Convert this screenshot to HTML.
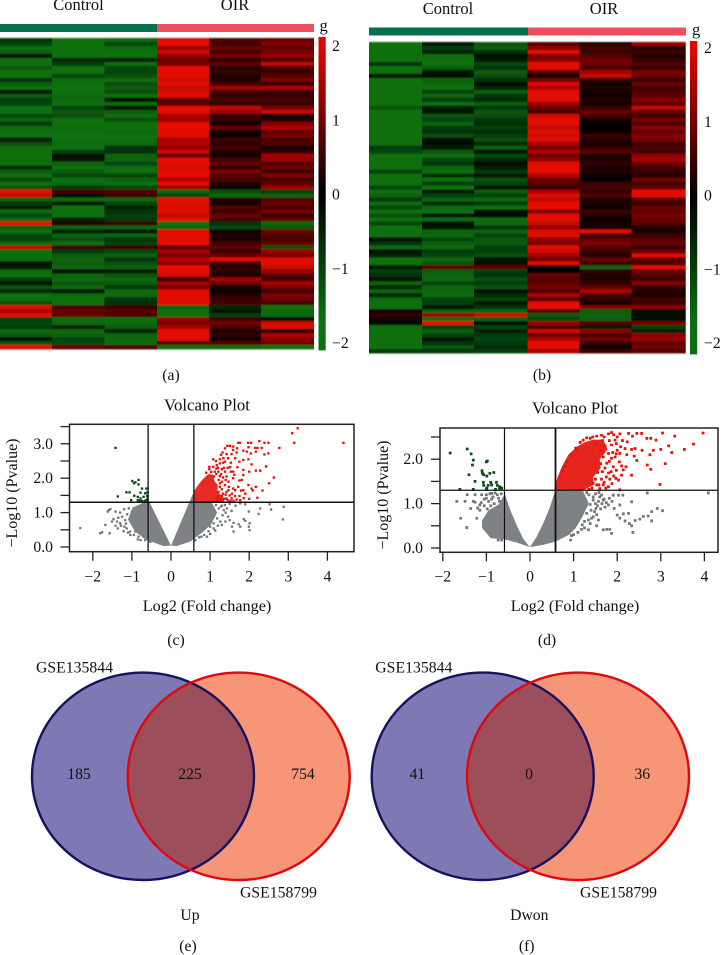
<!DOCTYPE html>
<html lang="en">
<head>
<meta charset="utf-8">
<title>Heatmaps, volcano plots and Venn diagrams</title>
<style>
html,body{margin:0;padding:0;background:#fff;}
svg{display:block;}
text{font-family:"Liberation Serif",serif;fill:#111;}
</style>
</head>
<body>
<svg id="fig" xmlns="http://www.w3.org/2000/svg" width="721" height="955" viewBox="0 0 721 955" font-size="15.7">
  <defs>
    <filter id="rowBlur" x="0" y="-2%" width="100%" height="104%"><feGaussianBlur stdDeviation="0 0.9"/></filter>
    <clipPath id="clipE"><ellipse cx="143" cy="776.3" rx="111" ry="103.7"/></clipPath>
    <clipPath id="clipF"><ellipse cx="482.7" cy="776.3" rx="111" ry="103.7"/></clipPath>
  </defs>
  <rect x="0" y="0" width="721" height="955" fill="#fff"/>
  <g id="panelA">
    <text x="78.5" y="10" text-anchor="middle" font-size="16.5">Control</text>
    <text x="235" y="10" text-anchor="middle" font-size="16.5">OIR</text>
    <rect x="0" y="24" width="157" height="8" fill="#05704f"/>
    <rect x="157" y="24" width="157" height="8" fill="#ee4f5f"/>
    <text x="319.5" y="31" font-size="16.5">g</text>
    <text x="171" y="380" text-anchor="middle">(a)</text>
  </g>
  <g id="panelB">
    <text x="448" y="14" text-anchor="middle" font-size="16.5">Control</text>
    <text x="604" y="14" text-anchor="middle" font-size="16.5">OIR</text>
    <rect x="369" y="27.5" width="159" height="8" fill="#05704f"/>
    <rect x="528" y="27.5" width="158" height="8" fill="#ee4f5f"/>
    <text x="692" y="35" font-size="16.5">g</text>
    <text x="542" y="380" text-anchor="middle">(b)</text>
  </g>
  <g id="panelC"></g>
  <g id="panelD"></g>
  <g id="panelE">
    <ellipse cx="143" cy="776.3" rx="111" ry="103.7" fill="#7e79b4"/>
    <ellipse cx="238.7" cy="776.3" rx="111" ry="103.7" fill="#f79577"/>
    <ellipse cx="238.7" cy="776.3" rx="111" ry="103.7" fill="#9c4e5b" clip-path="url(#clipE)"/>
    <ellipse cx="143" cy="776.3" rx="111" ry="103.7" fill="none" stroke="#16125e" stroke-width="2.4"/>
    <ellipse cx="238.7" cy="776.3" rx="111" ry="103.7" fill="none" stroke="#e0080f" stroke-width="2.4"/>
    <text x="36" y="672.7" textLength="77">GSE135844</text>
    <text x="240" y="897.7" textLength="77">GSE158799</text>
    <text x="79" y="779" text-anchor="middle">185</text>
    <text x="190" y="779" text-anchor="middle">225</text>
    <text x="303" y="779" text-anchor="middle">754</text>
    <text x="190" y="920" text-anchor="middle">Up</text>
    <text x="188" y="951" text-anchor="middle">(e)</text>
  </g>
  <g id="panelF">
    <ellipse cx="482.7" cy="776.3" rx="111" ry="103.7" fill="#7e79b4"/>
    <ellipse cx="578" cy="776.3" rx="111" ry="103.7" fill="#f79577"/>
    <ellipse cx="578" cy="776.3" rx="111" ry="103.7" fill="#9c4e5b" clip-path="url(#clipF)"/>
    <ellipse cx="482.7" cy="776.3" rx="111" ry="103.7" fill="none" stroke="#16125e" stroke-width="2.4"/>
    <ellipse cx="578" cy="776.3" rx="111" ry="103.7" fill="none" stroke="#e0080f" stroke-width="2.4"/>
    <text x="375.3" y="672.7" textLength="77">GSE135844</text>
    <text x="580" y="897.7" textLength="77">GSE158799</text>
    <text x="417.3" y="779" text-anchor="middle">41</text>
    <text x="529" y="779" text-anchor="middle">0</text>
    <text x="642.3" y="779" text-anchor="middle">36</text>
    <text x="529.3" y="920" text-anchor="middle">Dwon</text>
    <text x="526.7" y="951" text-anchor="middle">(f)</text>
  </g>
</svg>
<script>
// ---------- heatmap values (one array per sample column, top row first) ----------
const heatA1=[-.8,-1,-1.6,-1.3,-.2,-1.6,-1.6,-1.2,-1.6,-1.6,
-.7,-1.3,-1.6,-.2,-1.3,-.9,-1,-1.6,-1.6,-1,
-1.4,-.8,-1.5,-1.6,-1.6,-.4,-1.1,-1.6,-1.6,-1.6,
-1.6,-1.6,-.6,-1.3,-1.6,-1,-1.6,-1.1,1.9,1.6,
-1.4,-.8,-.5,-1.5,-1,-1.5,2,-1.3,-1.6,-1,
-1,-1.5,1.6,-1.6,-1.6,-1.5,-.2,-.4,-1.5,-1.6,
-.9,-.3,-1.1,-.6,-1.6,-1.6,-1.1,2,1.4,1.9,
-.9,-1,-.8,-1.5,-1.3,-.3,-1.2,2];
const heatA2=[-1.6,-1.6,-1.6,-1.6,-1.6,-.5,-.9,-1.6,-1.6,-1,
-1.5,-1.6,-1.6,-1.6,-1.5,-1.5,-1.6,-1,-1.2,-1.1,
-1.6,-1.6,-1.5,-1.6,-1.6,-1.6,-1.5,-1.6,-.9,-.2,
-.3,-1.4,-1.6,-1.3,-1,-1.6,-1.5,-.8,.6,-.1,
-1.5,-.3,-1.6,-1.6,-1.6,-.5,.3,-1.4,-.4,-1.4,
-1.1,-1.6,.5,-.8,-1.3,-1.4,-1.3,-1.5,-.2,-1.4,
-1.5,-1.2,-1.5,-.2,-1.5,-1.6,-1.6,.6,.9,.8,
-1.5,-1.5,-.5,-1.5,-1.4,-1,-1,.8];
const heatA3=[-1.5,-1,-1.5,-1.6,-1.6,-.3,-1.6,-1,-1,-1.1,
-1.6,-1.1,-1.3,-1.1,-1.6,-.1,-1.5,-.3,-1.3,-1.6,
-1.1,-1.6,-1.6,-1.5,-1.6,-1.6,-1.5,-.7,-.7,-1.4,
-1.4,-1,-1.5,-1.6,-.9,-1.4,-1.6,-1,.7,.5,
-1.5,-1,-.5,-.7,-.9,-.8,.5,-1.4,-.3,-1.4,
-.8,-.9,.5,-1,-1.4,-.8,-1.1,-1.4,-.4,-1.2,
-1.5,-1.3,-.8,-1.5,-1.5,-.7,-.7,.5,.8,.6,
-1.6,-1.5,-1.3,-.5,-1.4,-1.5,-1.5,.6];
const heatA4=[2,1.9,1.3,1.7,1.2,.9,1,2,2,2,
1.7,2,1.6,1.8,1.9,.7,.8,1.9,2,1.5,
1.3,2,2,2,1.9,1.4,1.5,1.3,1.7,.9,
1.9,2,1.8,2,1.9,1.5,1.9,1.3,-1.5,-1,
2,2,1.8,2,1.6,1.9,-1.6,-1.5,2,2,
2,1.9,.7,1.4,1,1.5,1.2,1.9,2,1.7,
.5,1.4,1,2,2,2,1.9,-1.4,-1.6,-1.6,
1.3,1,1.5,2,2,2,.7,-1.6];
const heatA5=[.7,.5,.9,.6,1,.4,.8,.3,.5,.2,
.3,.6,1.4,.5,.4,.6,.5,1.6,1.3,.5,
.4,.2,.9,.2,.1,.5,.4,.6,.3,.2,
.6,.8,.4,1,.7,.6,.3,.1,-1.1,-1.5,
.3,.2,.7,.5,.9,.6,-.7,-1,.2,.3,
.2,.6,.8,.5,.9,1.9,.6,.3,.4,.2,
1.4,.9,.2,.1,.3,.5,.6,-.6,-.3,-.9,
.5,1,.6,.3,.4,.1,.7,-1.5];
const heatA6=[.9,1.1,.8,1,1.3,.7,1.6,.6,.4,.7,
1.1,.4,1.5,.5,.4,.6,.5,1,1.7,.2,
.3,1.1,1.5,.8,1,.6,.7,.2,.4,1.4,
1.3,.7,.9,.5,1.1,.6,.8,1.3,-.9,-1.4,
.7,.9,.6,1,.5,.8,-1.5,-1.2,.9,.7,
.6,.9,-1.1,1.3,1,1.9,2,1.6,1.3,.8,
.5,1.4,1,.5,1.1,.9,.6,-1.6,-1.5,-1.5,
-.2,1.7,1.9,.3,1.5,1.2,.9,-1.6];
const heatB1=[-1.6,-1.6,-1.6,-1.6,-1.6,-.7,-1.6,-1.6,-.1,-1.6,
-1.6,-1.6,-1.6,-1.6,-1.6,-1.6,-1.2,-1.6,-1.6,-1.6,
-1.6,-1.6,-1.6,-1.6,-1.6,-1.6,-.8,-1,-1.6,-1.6,
-1.6,-1.6,-.9,-1.6,-1.6,-1.6,-1,-1.6,-1.4,-.8,
-1.5,-1,-1.6,-1.1,-1.6,-1,-1.6,-1.6,-1.6,-.1,
-.7,-1.5,-.2,-.5,-1.6,-1.6,-.3,-.9,-.7,-.3,
-1.4,-.6,-1.4,-.5,-1.5,-1.6,-1.6,.2,.4,.2,
-.2,-1.6,-1.6,-1.6,-1.6,-1.6,-1.6,-.8];
const heatB2=[-.3,-.9,-.5,-1.5,-1.6,-1.6,-1.3,-.3,-.1,-1.4,
-1.5,-1.6,-.9,-1.5,-.8,-1.6,-.4,-.3,-1.2,-1,
-1.4,-.9,-.7,-1.1,-.2,-.2,-.4,-1.2,-1.6,-1,
-.8,-1.4,-1.6,-.6,-1.6,-.9,-1.6,-.3,-.9,-1.4,
-.6,-1.5,-1.6,-.3,-1.5,-.2,-.3,-1.4,-1.5,-1,
-1.3,-1.5,-.8,-1,-1.5,-1.2,.8,-1.3,-1.4,-1.5,
-1,-1.4,-1.5,-1.5,-1,-.9,-.3,-1.4,1.3,-1.5,
2,-.9,-1.3,-1,-.2,-.7,-1.2,-.8];
const heatB3=[-1.2,-1.3,-.7,-.1,-.4,-1,-.7,-1.3,-1.1,-.7,
-.2,-.6,-1.3,-.8,-.6,-1.3,-.8,-1.2,-1.1,-.8,
-.6,-.9,-.6,-.9,-1.1,-.6,-1.3,-.3,-1,-.6,
-.2,-.4,-.8,-.4,-1.1,-1,-.2,-1.3,-.9,-1.5,
-.8,-1.6,-.2,-.1,-1.5,-1.5,-.7,-1.4,-1,-1.2,
-1.3,-.9,-.9,-1.1,-.3,-.2,.8,-.9,-.7,-1.1,
-.9,-1.2,-.2,-.6,-1,-.3,-.7,-1.4,1.7,-1.4,
-.1,-.9,-.5,-.8,-1,-.8,-.6,-.9];
const heatB4=[.7,1.2,2,1,1.2,1.9,2,.7,.1,1,
1.8,1.5,2,2,1.9,1.3,.9,.6,1.7,2,
1.9,1.6,2,1.7,2,1.4,1,1.5,.9,1.2,
2,2,2,1.5,.9,.7,.5,1.4,2,1.6,
2,2,1,2,2,1.6,1.3,1.8,2,1.2,
1,1.9,1.7,1.4,.9,1.9,0,0,.9,.7,
.8,1,.6,1.5,.7,1.9,2,.7,-1.3,-1,
1.3,.6,1.7,.9,1.5,1.9,2,1.4];
const heatB5=[.3,.6,.5,.7,1,.9,.6,1.4,1.6,.5,
.1,.3,.2,.1,.3,.2,.5,.9,.6,.2,
.1,0,.1,.5,.3,.2,.4,.8,.2,.3,
.4,.2,.3,.1,0,.5,.6,.4,.7,.2,
.3,.1,.5,.3,.1,.2,.2,1.9,.4,.8,
1.1,.7,.5,.3,.9,.5,-1.4,.4,.3,.3,
.4,.8,1.5,.6,.4,.2,1.1,-1.3,-1.4,-1.3,
.7,-.3,1.2,.6,1,.4,.1,.5];
const heatB6=[1.3,.3,.5,.3,.4,.7,.4,1,.9,.4,
.9,.5,.7,.8,1.1,.8,1.6,.9,.5,1,
.6,1.2,.8,1.1,1,.5,.7,.5,1.2,1.4,
.9,.6,.4,.3,1,.5,.8,1.9,1.9,.7,
.5,.9,.8,1,.9,.7,.3,.2,.5,.7,
.9,.4,.9,1.9,.8,.6,1.9,.9,.7,.5,
1.1,.4,.3,.2,.6,.5,1.2,-.1,-.2,-.1,
1,-.9,-.5,1.2,1.3,.8,1,.7];
const colorbarTicks=[2,1,0,-1,-2];
const colorbarLabels=["2","1","0","\u22121","\u22122"];

// ---------- volcano (c) values: [log2 fold change, -log10 p] ----------
const cXTicks=[-2,-1,0,1,2,3,4];
const cXLabels=["\u22122","\u22121","0","1","2","3","4"];
const cYTicks=[0,.5,1,1.5,2,2.5,3,3.5];
const cYLabels=["0.0","","1.0","","2.0","","3.0",""];
const cRed=[[3.24,3.45],[3.1,3.31],[3.15,3.03],[4.41,3.03],[2.77,2.88],[2.49,3.03],[2.39,3.03],[2.26,3.08],[2.05,3.03],[1.97,3.03],[1.76,3.03],[1.72,3.03],[2.32,2.88],[2.21,2.88],[2.15,2.88],[1.98,2.9],[1.94,2.77],[2.04,2.72],[2.17,2.77],[2.39,2.69],[2.49,2.72],[1.44,2.94],[1.51,2.94],[1.59,2.92],[1.69,2.87],[1.38,2.87],[1.68,2.75],[1.59,2.82],[1.85,2.8],[1.42,2.7],[1.55,2.7],[1.34,2.58],[1.25,2.55],[1.38,2.48],[1.53,2.45],[1.64,2.58],[1.75,2.48],[1.85,2.53],[1.98,2.55],[2.06,2.4],[2.17,2.22],[2.28,2.22],[2.43,2.34],[2,2.19],[1.85,2.24],[1.85,2.09],[2.63,2.02],[2.51,1.85],[2.34,1.64],[2.21,1.43],[2.17,1.75],[2.06,1.7],[2.09,1.64],[1.98,1.8],[1.81,1.95],[1.75,1.93],[1.72,1.75],[1.85,1.65],[1.79,1.64],[1.59,1.7],[1.64,1.65],[1.47,1.65],[1.64,1.48],[1.75,1.48],[1.77,1.36],[1.55,1.41],[1.42,1.41],[1.3,1.48],[1.59,2],[1.47,1.9],[1.38,2.19],[1.53,2.19],[1.59,2.19],[1.51,2.32],[1.3,2.26],[1.21,2.19],[.98,2.33],[1.08,2.33],[1.17,2.38],[1.08,2.55],[1.25,2.43],[1.33,2.45],[.9,2.16],[.98,2.26],[1.12,2.19],[1.25,2.06],[1.33,2.02],[1.3,1.9],[1.25,1.75],[1.38,1.8],[1.42,1.6],[1.21,1.6],[1.33,1.55],[1.45,1.36],[1.6,1.34],[1.2,1.35],[1.3,1.68],[1.1,2.05],[1.22,1.95],[1.4,1.95],[1.48,1.75],[1.56,1.55],[1.36,1.4],[1.5,1.5],[1.42,2.05],[1.35,2.3],[1.16,2.28],[1.03,2.18],[1.2,2.3],[1.28,2.12],[1.45,2.3],[1.62,2.1],[1.7,2.32],[1.15,2.5],[1.28,2.68],[1.32,2.75],[1.46,2.58],[1.2,1.45],[1.28,1.38],[1.68,1.38],[1.25,1.85],[1.16,2.12],[1.4,1.52],[1.52,1.34],[1.86,1.42],[1.9,1.55],[2.0,1.4]];
const cRedCoreX=[.58,.58,.68,.8,.95,1.08,1.12,1.2,1.18,1.3,1.38];
const cRedCoreY=[1.3,1.6,1.78,1.95,2.12,2.1,1.9,1.8,1.6,1.5,1.3];
const cGreen=[[-1.42,2.88],[-.99,1.92],[-.95,1.85],[-.83,1.95],[-.83,1.82],[-.91,1.88],[-.74,1.7],[-.63,1.7],[-1.14,1.59],[-1.06,1.59],[-1.36,1.47],[-.94,1.49],[-.78,1.58],[-.66,1.56],[-.6,1.59],[-.61,1.49],[-.85,1.46],[-.78,1.41],[-1.02,1.36],[-.85,1.36],[-.74,1.34],[-.63,1.36],[-.7,1.46],[-.6,1.41],[-.8,1.34],[-.67,1.34]];
const cGrey=[[-2.32,.55],[-1.81,.4],[-1.76,.43],[-1.57,.4],[-1.68,.64],[-1.59,1.07],[-1.55,1.1],[-1.62,1.03],[-1.42,1.03],[-1.47,.81],[-1.38,.74],[-1.51,.74],[-1.3,.69],[-1.36,.54],[-1.19,.59],[-1.25,.88],[-1.17,.78],[-1.08,1.12],[-1,1.03],[-1.13,.54],[-1.04,.35],[-.91,.45],[-.7,.3],[-.66,.2],[-.53,.15],[-.83,.3],[-1.21,.46],[2.88,1.17],[2.86,.8],[2.52,1.24],[2.56,1.09],[2.24,.96],[2.28,1.12],[1.99,1.03],[1.86,.81],[1.9,.76],[2.01,.69],[1.99,.59],[2.01,.49],[1.73,.66],[1.56,.59],[1.43,1.12],[1.46,.88],[1.77,1.27],[1.9,1.24],[1.26,.74],[1.3,.64],[1.09,.54],[.92,.3],[.84,.54],[1,.59],[1.35,1.07],[1.22,1.12],[1.6,.45],[1.77,.59],[1.39,.74],[1.18,.83],[1.09,.69],[.96,.46],[1.3,1.2],[1.15,1.22],[1.5,1.25],[-1.3,1.0],[-1.2,1.1],[-1.12,.95],[-1.15,.68],[-1.28,.62],[-1.05,.45],[-.95,.35],[-1.1,.42],[-.85,.22],[-.78,.2],[-1.35,.85],[-1.42,.62],[1.32,.92],[1.4,1.0],[1.28,1.18],[1.38,1.22],[1.2,.62],[1.13,.48],[1.0,.38],[.85,.35],[.72,.28],[.62,.2],[1.5,.78],[1.6,.7],[1.65,1.2],[1.55,1.05],[.78,.3]];
const cGreyLeftX=[0,-.57,-.72,-.98,-1.1,-.92,-.65,-.2];
const cGreyLeftY=[.04,1.35,1.28,1.15,.8,.45,.22,.03];
const cGreyRightX=[0,.56,.62,1.05,1.18,1.02,.8,.5,.15];
const cGreyRightY=[.04,1.55,1.28,1.28,1,.65,.42,.16,.03];

// ---------- volcano (d) values ----------
const dXTicks=[-2,-1,0,1,2,3,4];
const dXLabels=["\u22122","\u22121","0","1","2","3","4"];
const dYTicks=[0,.5,1,1.5,2,2.5];
const dYLabels=["0.0","","1.0","","2.0",""];
const dRed=[[3.97,2.59],[3.32,2.52],[3.04,2.59],[3.75,2.34],[3.54,2.22],[3.25,2.15],[3.1,1.9],[2.98,1.43],[3.18,2.3],[3,2.22],[2.83,2.2],[2.89,2.43],[2.77,2.47],[2.68,2.47],[2.75,2.1],[2.69,1.87],[2.77,1.77],[2.45,1.97],[2.39,2.07],[2.57,2.2],[2.41,2.24],[2.33,2.22],[2.56,2.58],[2.45,2.58],[2.35,2.52],[2.26,2.58],[2.06,2.57],[2.23,2.39],[2.18,2.24],[2.22,2.1],[2.06,2.13],[2.05,1.94],[2.2,1.83],[2.14,1.76],[2.33,1.64],[2.1,1.64],[2.03,1.53],[1.97,1.57],[2.06,1.31],[1.83,1.55],[1.8,1.69],[1.91,1.83],[1.64,1.55],[1.68,1.42],[1.53,1.42],[1.6,1.34],[1.8,1.38],[1.45,1.46],[1.87,2.6],[1.8,2.57],[1.64,2.54],[1.53,2.52],[1.95,2.43],[1.87,2.32],[2,2.2],[1.8,2.13],[1.87,2.02],[1.76,1.91],[1.22,2.43],[1.38,2.47],[1.07,2.2],[.8,1.83],[1.7,2.5],[1.92,2.55],[2.0,2.5],[2.12,2.42],[1.98,2.35],[2.08,2.28],[1.9,2.15],[1.72,2.3],[1.95,2.05],[1.82,1.95],[1.68,2.05],[1.72,1.8],[1.62,1.9],[1.86,1.72],[1.92,1.62],[1.75,1.6],[1.66,1.72],[1.7,1.48],[1.58,1.42],[1.5,1.55],[1.42,1.35],[1.35,1.32],[1.74,1.35],[1.88,1.45],[1.55,1.7],[1.98,1.75],[2.1,1.85],[1.62,2.2],[1.52,2.35],[1.98,2.12],[1.66,2.42],[1.82,2.42],[1.05,2.25],[1.15,2.38],[1.3,2.48],[1.44,2.5],[.95,2.08],[.85,1.95],[.74,1.75],[.68,1.6]];
const dRedCoreX=[.59,.61,.73,.88,1.07,1.25,1.45,1.68,1.78,1.6,1.62,1.45,1.45,1.2];
const dRedCoreY=[1.3,1.53,1.83,2.1,2.28,2.38,2.44,2.44,2.22,2,1.8,1.6,1.42,1.29];
const dGreen=[[-1.83,2.14],[-1.44,2.23],[-1.35,2.12],[-1.3,1.98],[-1.32,1.87],[-.98,1.96],[-1,1.94],[-1.1,1.74],[-1.4,1.65],[-1.06,1.65],[-.99,1.62],[-.92,1.68],[-.83,1.7],[-1.09,1.68],[-1.26,1.5],[-1.07,1.48],[-1.06,1.41],[-.9,1.48],[-.77,1.48],[-.75,1.41],[-.69,1.38],[-.96,1.41],[-.99,1.35],[-.88,1.42],[-1.61,1.32],[-1.3,1.32],[-.79,1.32],[-.7,1.35],[-.65,1.35],[-1,1.32]];
const dGrey=[[4.09,1.24],[2.69,1.24],[2.33,1.04],[3.04,.84],[2.92,.89],[2.79,.82],[2.79,.61],[2.71,.72],[2.6,.71],[2.52,.65],[2.41,.62],[2.28,.55],[2.18,.61],[2.36,.35],[2.33,.5],[2.26,.78],[2.14,.77],[2,.74],[2.06,.67],[1.87,.33],[1.83,.42],[1.76,.42],[1.68,.41],[1.53,.5],[1.34,.41],[.93,.18],[2.13,1.19],[2.03,1.19],[2.06,.97],[1.88,1.05],[1.8,.97],[1.72,.92],[1.93,.89],[1.68,1.08],[1.57,1.05],[1.51,.89],[1.53,.75],[1.41,.67],[1.45,1.08],[1.57,.63],[1.34,.63],[1.38,.55],[1.91,1.19],[1.64,1.19],[-1.68,1.05],[-1.49,1.05],[-1.45,.46],[-1.59,.67],[-1.36,.89],[-1.44,1.2],[-1.26,1.2],[-1.22,.67],[-1.15,.97],[-1.26,1.03],[-1.11,1.2],[-1.3,1.05],[-.73,.18],[-.65,.18],[-1,1.12],[-.88,1.23],[-1.05,.95],[-.95,1.05],[-.85,1.15],[-.75,1.2],[-.7,1.05],[-1.15,.85],[-1,1.2],[-.9,.95],[-1.2,.9],[-1.05,1.1],[-.92,1.22],[-1.12,1.02],[-.82,1],[-.72,1.12],[-.8,1.24],[-.98,.88],[-.88,1.1],[-.66,1.22],[1.35,1.2],[1.45,1.15],[1.5,1],[1.55,.95],[1.6,1.15],[1.4,.85],[1.25,.6],[1.2,.52],[1.45,.7],[1.1,.35],[.95,.28],[1,.3],[1.7,1.1],[1.75,1.02],[1.3,1.25],[1.62,.88],[1.5,1.22],[1.38,.98],[1.3,.78],[1.18,.42],[1.25,.45],[1.65,1.0],[1.82,1.12],[1.58,1.25],[1.48,.82]];
const dGreyLeftX=[0,-.15,-.3,-.45,-.58,-.72,-.95,-1.1,-1.1,-.9,-.6,-.3];
const dGreyLeftY=[.02,.2,.5,.85,1.22,.98,.85,.62,.45,.22,.2,.12];
const dGreyRightX=[0,.15,.3,.45,.58,1.22,1.35,1.2,1.05,.9,.6,.3];
const dGreyRightY=[.02,.25,.55,.9,1.3,1.28,1,.7,.45,.3,.15,.07];

// ---------- drawing ----------
const NS='http://www.w3.org/2000/svg';
function mk(tag,parent,attrs){
  const el=document.createElementNS(NS,tag);
  for(const k in attrs){el.setAttribute(k,attrs[k]);}
  parent.appendChild(el);
  return el;
}
function heatColor(v){
  if(v>=0){
    const t=Math.min(1,v/1.9);
    return 'rgb('+Math.round(226*t)+','+Math.round(8*t)+',0)';
  }
  const t=Math.min(1,-v/1.6);
  return 'rgb('+Math.round(10*t)+','+Math.round(112*t)+','+Math.round(16*t)+')';
}
function drawHeatmap(panelId,cols,edges,top,bottom,bar){
  const panel=document.getElementById(panelId);
  cols.forEach(function(col,c){
    const colGroup=mk('g',panel,{filter:'url(#rowBlur)'});
    
    
    const rowH=(bottom-top)/col.length;
    col.forEach(function(v,r){
      const cell=mk('rect',colGroup,{x:edges[c],y:top+r*rowH,width:edges[c+1]-edges[c],height:rowH+.4,fill:heatColor(v)});
      
      
    });
  });
  const valueToY=function(v){return bar.y2+(v+2)/4*(bar.y1-bar.y2);};
  for(let i=0;i<80;i++){
    const v=2-i*4/80;
    const slice=mk('rect',panel,{x:bar.x,y:top+(bottom-top+2)*i/80-1,width:bar.w,height:(bottom-top+2)/80+.4,fill:heatColor(v-.025)});
    
    
  }
  colorbarTicks.forEach(function(v,i){
    const label=mk('text',panel,{x:bar.labelX,y:valueToY(v)+5});
    label.textContent=colorbarLabels[i];
    
    
  });
}
drawHeatmap('panelA',[heatA1,heatA2,heatA3,heatA4,heatA5,heatA6],[0,52,104.5,157,209,261,314],38,349,{x:318.5,w:7.2,y1:46,y2:343,labelX:332});
drawHeatmap('panelB',[heatB1,heatB2,heatB3,heatB4,heatB5,heatB6],[369,422,474,527.5,579.5,631.5,685.7],42,353,{x:690,w:7.2,y1:48,y2:343,labelX:704});

function polygon(g,xs,ys,sx,sy,fill,opacity,name){
  const pts=xs.map(function(x,i){return sx(x)+','+sy(ys[i]);}).join(' ');
  const p=mk('polygon',g,{points:pts,fill:fill,opacity:opacity});
  
  
}
function drawVolcano(cfg){
  const g=document.getElementById(cfg.panel);
  const sx=function(v){return cfg.x0+v*cfg.xUnit;};
  const sy=function(v){return cfg.y0-v*cfg.yUnit;};
  polygon(g,cfg.greyLeftX,cfg.greyLeftY,sx,sy,'#74777a',cfg.greyOpacity,'grey-density-left');
  polygon(g,cfg.greyRightX,cfg.greyRightY,sx,sy,'#74777a',cfg.greyOpacity,'grey-density-right');
  const dot=function(p,fill,name){
    const d=mk('rect',g,{x:sx(p[0])-cfg.dot/2,y:sy(p[1])-cfg.dot/2,width:cfg.dot,height:cfg.dot,rx:.5,fill:fill});
    
    
  };
  cfg.grey.forEach(function(p){dot(p,'#74777a','point-not-significant');});
  cfg.green.forEach(function(p){dot(p,'#0a4a1a','point-down');});
  polygon(g,cfg.redCoreX,cfg.redCoreY,sx,sy,'#e5120c',cfg.redOpacity,'red-density-core');
  cfg.red.forEach(function(p){dot(p,'#e5120c','point-up');});
  [-.585,.585].forEach(function(v,i){
    const l=mk('line',g,{x1:sx(v),x2:sx(v),y1:cfg.top,y2:cfg.bottom,stroke:'#111','stroke-width':i===0?cfg.vWidth[0]:cfg.vWidth[1]});
    
    
  });
  const h=mk('line',g,{x1:cfg.left,x2:cfg.right,y1:sy(1.3),y2:sy(1.3),stroke:'#111','stroke-width':cfg.hWidth});
  
  
  const box=mk('rect',g,{x:cfg.left,y:cfg.top,width:cfg.right-cfg.left,height:cfg.bottom-cfg.top,fill:'none',stroke:'#222','stroke-width':1.5});
  
  
  cfg.xTicks.forEach(function(v,i){
    const t=mk('line',g,{x1:sx(v),x2:sx(v),y1:cfg.bottom,y2:cfg.bottom+9,stroke:'#222','stroke-width':1.3});
    
    
    const lab=mk('text',g,{x:sx(v),y:581.5,'text-anchor':'middle'});
    lab.textContent=cfg.xLabels[i];
    
    
  });
  cfg.yTicks.forEach(function(v,i){
    const t=mk('line',g,{x1:cfg.left-9,x2:cfg.left,y1:sy(v),y2:sy(v),stroke:'#222','stroke-width':1.3});
    
    
    if(cfg.yLabels[i]){
      const lab=mk('text',g,{x:cfg.yLabelX,y:sy(v)+5,'text-anchor':'end'});
      lab.textContent=cfg.yLabels[i];
      
      
    }
  });
  const title=mk('text',g,{x:cfg.midX,y:cfg.titleY,'text-anchor':'middle','font-size':16.8});
  title.textContent='Volcano Plot';
  
  
  const xt=mk('text',g,{x:cfg.midX,y:611,'text-anchor':'middle','font-size':16.2});
  xt.textContent='Log2 (Fold change)';
  
  
  const yt=mk('text',g,{x:0,y:0,'text-anchor':'middle','font-size':16,transform:'translate('+cfg.yTitleX+','+cfg.yTitleY+') rotate(-90)'});
  yt.textContent='\u2212Log10 (Pvalue)';
  
  
  const cap=mk('text',g,{x:cfg.capX,y:645,'text-anchor':'middle'});
  cap.textContent=cfg.caption;
  
  
}
drawVolcano({panel:'panelC',x0:171,xUnit:39.1,y0:547,yUnit:34.4,left:69.5,right:354,top:424.3,bottom:551.7,dot:2.4,vWidth:[1.3,1.3],hWidth:1.5,
  xTicks:cXTicks,xLabels:cXLabels,yTicks:cYTicks,yLabels:cYLabels,red:cRed,green:cGreen,grey:cGrey,redCoreX:cRedCoreX,redCoreY:cRedCoreY,
  greyLeftX:cGreyLeftX,greyLeftY:cGreyLeftY,greyRightX:cGreyRightX,greyRightY:cGreyRightY,greyOpacity:.92,redOpacity:.9,
  yLabelX:53,midX:207,titleY:410.7,yTitleX:17,yTitleY:493,capX:176,caption:'(c)'});
drawVolcano({panel:'panelD',x0:530,xUnit:43.6,y0:548,yUnit:44.4,left:440,right:718,top:428,bottom:552.3,dot:2.8,vWidth:[1.2,1.8],hWidth:1.2,
  xTicks:dXTicks,xLabels:dXLabels,yTicks:dYTicks,yLabels:dYLabels,red:dRed,green:dGreen,grey:dGrey,redCoreX:dRedCoreX,redCoreY:dRedCoreY,
  greyLeftX:dGreyLeftX,greyLeftY:dGreyLeftY,greyRightX:dGreyRightX,greyRightY:dGreyRightY,greyOpacity:.92,redOpacity:.92,
  yLabelX:423,midX:575,titleY:413.3,yTitleX:388,yTitleY:495,capX:547,caption:'(d)'});
</script>
</body>
</html>
